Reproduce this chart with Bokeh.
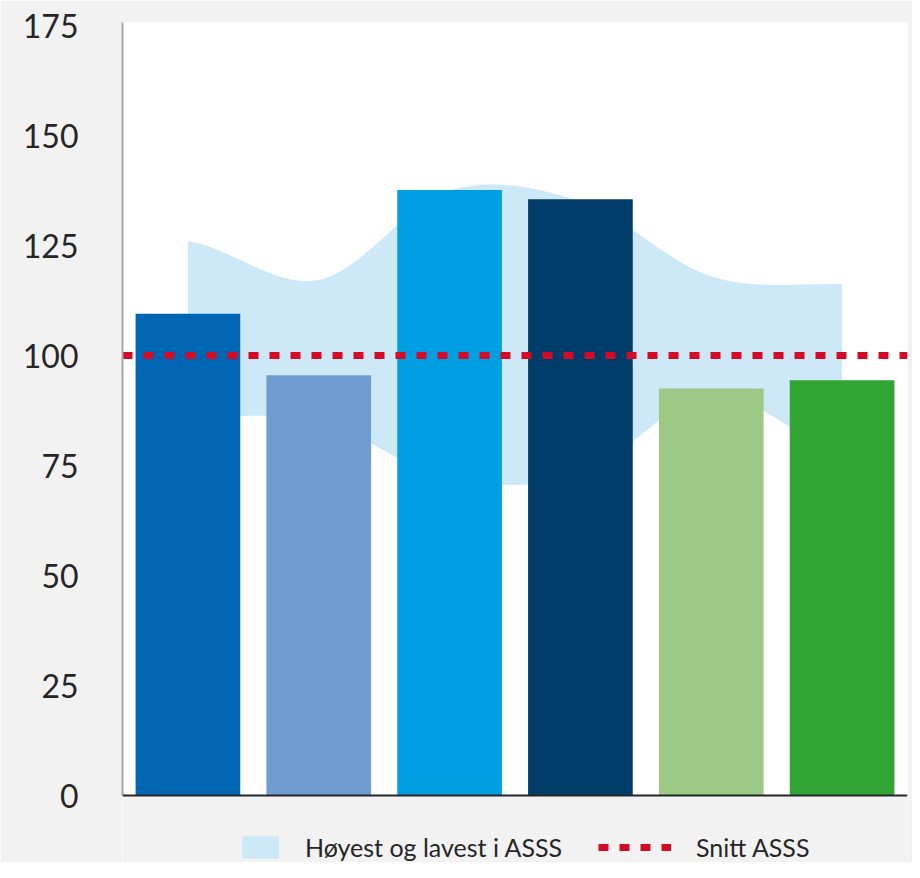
import numpy as np
from bokeh.plotting import figure
from bokeh.models import Range1d, FixedTicker, Legend, LegendItem, BoxAnnotation, Span
from bokeh.embed import file_html
from bokeh.resources import INLINE

# ---- data ----
categories = ["Kategori 1", "Kategori 2", "Kategori 3", "Kategori 4", "Kategori 5", "Kategori 6"]
values = [109.5, 95.5, 137.6, 135.5, 92.5, 94.4]
band_high = [126.0, 117.2, 137.5, 135.0, 118.0, 116.2]
band_low = [86.0, 85.0, 72.0, 73.0, 91.0, 78.0]
avg_level = 100
y_ticks = [0, 25, 50, 75, 100, 125, 150, 175]

bar_colors = ["#0066b3", "#6f9dd2", "#009fe3", "#003c69", "#9dc986", "#33a535"]
band_color = "#cde9f7"
avg_color = "#d50a26"
BG = "#f2f2f2"
FONT = "Lato"
TEXT = "#262626"

xs = [i + 0.5 for i in range(len(categories))]


def smooth(vals, n=40):
    """Cubic (Catmull-Rom) smoothing of a line through the given points, like a smoothed line chart."""
    N = len(vals)
    sx, sy = [], []
    for i in range(N - 1):
        p0, p1 = vals[i], vals[i + 1]
        m0 = (vals[i + 1] - vals[i - 1]) / 2 if i > 0 else (vals[1] - vals[0]) / 2
        m1 = (vals[i + 2] - vals[i]) / 2 if i + 2 < N else (vals[N - 1] - vals[N - 2]) / 2
        for t in np.linspace(0, 1, n, endpoint=(i == N - 2)):
            h00 = 2 * t**3 - 3 * t**2 + 1
            h10 = t**3 - 2 * t**2 + t
            h01 = -2 * t**3 + 3 * t**2
            h11 = t**3 - t**2
            sx.append(xs[i] + t * (xs[i + 1] - xs[i]))
            sy.append(h00 * p0 + h10 * m0 + h01 * p1 + h11 * m1)
    return sx, sy


sx, hi_s = smooth(band_high)
_, lo_s = smooth(band_low)

x_start, x_end = 0, len(categories)
y_top = 175.7
# the frame reaches the bottom of the figure so that the legend can sit inside it
y_bottom = -67 / 4.4

p = figure(
    width=912, height=862,
    x_range=Range1d(x_start, x_end), y_range=Range1d(y_bottom, y_top),
    output_backend="svg", toolbar_location=None,
    min_border_left=122, min_border_right=5, min_border_top=22, min_border_bottom=0,
)
p.background_fill_color = "white"
p.border_fill_color = BG
p.outline_line_color = None
p.xgrid.visible = False
p.ygrid.visible = False
p.xaxis.visible = False

band = p.varea(x=sx, y1=lo_s, y2=hi_s, fill_color=band_color, fill_alpha=1)
p.vbar(x=xs, top=values, width=0.8, fill_color=bar_colors, line_color=None)
avg = p.line(x=[x_start, x_end], y=[avg_level, avg_level], line_color=avg_color,
             line_width=7, line_dash="10 11", line_cap="butt")

# grey area below the value axis and the category axis line
p.add_layout(BoxAnnotation(top=0, fill_color=BG, fill_alpha=1, line_color=None))
p.add_layout(Span(location=0, dimension="width", line_color="#262626", line_width=2))

# value axis
p.yaxis.ticker = FixedTicker(ticks=y_ticks)
p.yaxis.bounds = (0, y_top)
p.yaxis.major_tick_line_color = None
p.yaxis.minor_tick_line_color = None
p.yaxis.axis_line_color = "#a6a6a6"
p.yaxis.axis_line_width = 2
p.yaxis.major_label_text_font = FONT
p.yaxis.major_label_text_font_size = "32px"
p.yaxis.major_label_text_color = TEXT
p.yaxis.major_label_standoff = 38

# legends
common = dict(orientation="horizontal", padding=0, margin=0, spacing=0,
              background_fill_alpha=0, border_line_alpha=0,
              label_text_font=FONT, label_text_font_size="25px", label_text_color=TEXT,
              glyph_height=28)
leg1 = Legend(items=[LegendItem(label="Høyest og lavest i ASSS", renderers=[band])],
              location=(115, 0), glyph_width=46, label_standoff=22, **common)
leg2 = Legend(items=[LegendItem(label="Snitt ASSS", renderers=[avg])],
              location=(476, 0), glyph_width=73, label_standoff=25, **common)
p.add_layout(leg1, "center")
p.add_layout(leg2, "center")

open("out.html", "w").write(file_html(p, INLINE))
